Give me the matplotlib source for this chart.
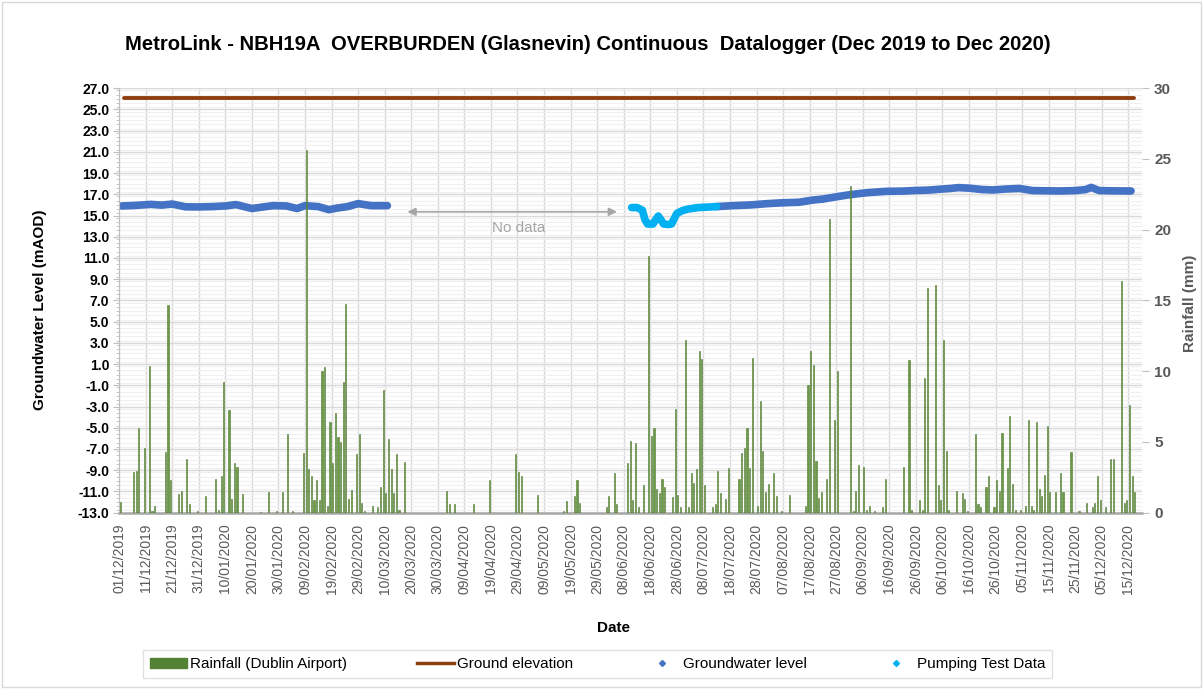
import matplotlib
matplotlib.use('Agg')
import matplotlib.pyplot as plt
import matplotlib.dates as mdates
from matplotlib.lines import Line2D
from matplotlib.patches import Patch, Rectangle
from matplotlib.ticker import MultipleLocator, FormatStrFormatter
import pandas as pd

plt.rcParams['font.family'] = ['Liberation Sans', 'DejaVu Sans']

start = pd.Timestamp('2019-12-01')

# daily rainfall at Dublin Airport (day offset from 01/12/2019, mm)
rain_day = [0, 5, 6, 7, 9, 11, 12, 13, 17, 18, 19, 22, 23, 25, 26, 29, 32, 36, 37, 38,
            39, 41, 42, 43, 44, 46, 53, 56, 59, 61, 63, 65, 69, 70, 71, 72, 73, 74, 75, 76,
            77, 78, 79, 80, 81, 82, 83, 84, 85, 86, 87, 89, 90, 91, 92, 95, 97, 98, 99, 100,
            101, 102, 103, 104, 105, 107, 123, 124, 126, 133, 139, 149, 150, 151, 157, 167, 168, 171, 172, 173,
            183, 184, 186, 187, 191, 192, 193, 194, 195, 197, 199, 200, 201, 202, 203, 204, 205, 208, 209, 210,
            211, 213, 214, 215, 216, 217, 218, 219, 220, 223, 224, 225, 226, 228, 229, 233, 234, 235, 236, 237,
            238, 240, 241, 242, 243, 244, 246, 247, 249, 252, 258, 259, 260, 261, 262, 263, 264, 266, 267, 269,
            270, 275, 276, 277, 278, 280, 281, 282, 284, 287, 288, 295, 297, 298, 301, 302, 303, 304, 307, 308,
            309, 310, 311, 312, 315, 317, 318, 319, 322, 323, 324, 326, 327, 329, 330, 331, 332, 334, 335, 336,
            337, 339, 341, 342, 343, 344, 345, 346, 347, 348, 349, 350, 352, 354, 355, 358, 361, 364, 366, 367,
            368, 369, 371, 373, 374, 377, 378, 379, 380, 381, 382]
rain_mm = [0.77, 2.84, 2.94, 6.0, 4.56, 10.36, 0.1, 0.48, 4.28, 14.65, 2.3, 1.33, 1.52, 3.81, 0.58, 0.1, 1.14, 2.39, 0.2, 2.58,
           9.23, 7.23, 0.96, 3.53, 3.24, 1.33, 0.05, 1.43, 0.1, 1.45, 5.53, 0.1, 4.19, 25.6, 3.05, 2.56, 0.86, 2.28, 0.86, 9.99,
           10.27, 0.48, 6.38, 3.53, 7.04, 5.34, 4.96, 9.21, 14.73, 0.96, 1.62, 4.12, 5.53, 0.67, 0.1, 0.48, 0.39, 1.83, 8.64, 1.36,
           5.22, 3.05, 1.36, 4.12, 0.2, 3.6, 1.55, 0.58, 0.58, 0.58, 2.28, 4.12, 2.84, 2.56, 1.24, 0.1, 0.79, 1.14, 2.28, 0.67,
           0.39, 1.14, 2.77, 0.58, 3.53, 5.03, 0.86, 4.94, 0.39, 1.92, 18.15, 5.43, 6.0, 1.64, 1.36, 2.37, 1.83, 1.07, 7.32, 1.26,
           0.39, 12.18, 0.39, 2.77, 2.11, 3.05, 11.43, 10.84, 1.92, 0.39, 0.58, 2.96, 1.36, 0.96, 3.15, 2.37, 4.19, 4.56, 6.0, 3.15,
           10.93, 0.48, 7.89, 4.38, 1.45, 2.02, 2.77, 1.14, 0.1, 1.24, 0.48, 9.02, 11.43, 10.44, 3.62, 1.05, 1.45, 2.37, 20.75, 6.57,
           9.99, 23.1, 0.1, 1.55, 3.34, 3.24, 0.2, 0.48, 0.1, 0.39, 2.39, 3.24, 10.77, 0.2, 0.86, 0.2, 9.51, 15.88, 16.07, 1.92,
           0.86, 12.18, 4.38, 0.2, 1.55, 1.36, 0.96, 0.1, 5.53, 0.58, 0.39, 1.83, 2.56, 0.39, 2.3, 1.55, 5.62, 3.15, 6.85, 2.02,
           0.2, 0.2, 0.48, 6.57, 0.48, 0.2, 6.38, 1.64, 1.14, 2.68, 6.1, 1.45, 1.45, 2.77, 1.45, 4.28, 0.1, 0.67, 0.39, 0.67,
           2.56, 0.86, 0.39, 3.81, 3.81, 16.38, 0.67, 0.86, 7.6, 2.56, 1.45]

# groundwater level (mAOD), before the logger gap
gw1_day = [1, 6, 12, 16, 20, 25, 30, 35, 40, 44, 50, 54, 58, 63, 67, 70, 75, 79, 82, 86, 90, 95, 101]
gw1_level = [15.90, 15.95, 16.05, 15.98, 16.08, 15.82, 15.81, 15.84, 15.90, 16.03, 15.66, 15.80, 15.93, 15.90,
             15.66, 15.93, 15.84, 15.55, 15.70, 15.84, 16.12, 15.93, 15.93]

# pumping test period
pump_day = [193, 195, 197, 198, 199, 201, 202, 203, 204, 205, 207, 208, 209, 210, 212, 214, 218, 222, 225]
pump_level = [15.75, 15.75, 15.5, 14.6, 14.2, 14.2, 14.6, 14.95, 14.6, 14.2, 14.15, 14.2, 14.7, 15.2, 15.45,
              15.6, 15.75, 15.8, 15.84]

# groundwater level after pumping test
gw2_day = [225, 231, 238, 244, 250, 256, 261, 265, 269, 274, 278, 282, 289, 295, 299, 305, 309, 313, 316, 320,
           325, 329, 334, 339, 344, 349, 354, 360, 364, 366, 369, 375, 381]
gw2_level = [15.84, 15.93, 16.0, 16.12, 16.2, 16.25, 16.45, 16.55, 16.72, 16.92, 17.05, 17.16, 17.28, 17.3,
             17.35, 17.4, 17.48, 17.55, 17.63, 17.58, 17.45, 17.41, 17.5, 17.55, 17.35, 17.33, 17.31, 17.35,
             17.45, 17.65, 17.35, 17.32, 17.31]

ground_day = [2, 382]
ground_level = [26.1, 26.1]


def to_dates(days, shift=0.0):
    return [start + pd.Timedelta(days=d + shift) for d in days]


fig = plt.figure(figsize=(12.03, 6.89), dpi=100)
ax = fig.add_axes([0.099, 0.256, 0.850, 0.616])
ax2 = ax.twinx()

c_rain = '#6A9A48'
c_ground = '#8E3F12'
c_gw = '#4472C4'
c_pump = '#00B0F0'

ax.plot(to_dates(ground_day), ground_level, color=c_ground, lw=2.8, solid_capstyle='round')
ax.plot(to_dates(gw1_day), gw1_level, color=c_gw, lw=5.5, solid_capstyle='round', solid_joinstyle='round')
ax.plot(to_dates(gw2_day), gw2_level, color=c_gw, lw=5.5, solid_capstyle='round', solid_joinstyle='round')
ax.plot(to_dates(pump_day), pump_level, color=c_pump, lw=5.5, solid_capstyle='round', solid_joinstyle='round')

ax2.bar(to_dates(rain_day, 0.4), rain_mm, width=0.42, color=c_rain, edgecolor='#4F7A30', linewidth=0.4)

# no data annotation
ax.annotate('', xy=(start + pd.Timedelta(days=107.5), 15.35), xytext=(start + pd.Timedelta(days=188.5), 15.35),
            arrowprops=dict(arrowstyle='<|-|>', color='#A6A6A6', lw=1.2, mutation_scale=12))
ax.text(start + pd.Timedelta(days=150.5), 13.85, 'No data', color='#A6A6A6', fontsize=11, ha='center', va='center')

# axes
ax.set_xlim(start, start + pd.Timedelta(days=385))
ax.set_ylim(-13, 27)
ax2.set_ylim(0, 30)
ax.set_yticks([27 - 2 * i for i in range(21)])
ax.yaxis.set_major_formatter(FormatStrFormatter('%.1f'))
ax.yaxis.set_minor_locator(MultipleLocator(0.4))
ax.set_xticks(to_dates(range(0, 381, 10)))
ax.xaxis.set_major_formatter(mdates.DateFormatter('%d/%m/%Y'))
ax2.set_yticks(range(0, 31, 5))

ax.set_axisbelow(True)
ax.grid(True, which='major', color='#D9D9D9', lw=1.0)
ax.grid(True, which='minor', axis='y', color='#F0F0F0', lw=0.8)

for lbl in ax.get_yticklabels():
    lbl.set_fontweight('bold')
ax.tick_params(axis='y', which='major', labelsize=10, length=4, color='#BFBFBF', pad=3)
ax.tick_params(axis='y', which='minor', length=2.5, color='#BFBFBF')
ax.tick_params(axis='x', labelsize=10, labelrotation=90, length=0, labelcolor='#595959', pad=8)
ax2.tick_params(axis='y', labelsize=11, length=5, color='#BFBFBF', labelcolor='#595959', pad=4)
for lbl in ax2.get_yticklabels():
    lbl.set_fontweight('bold')

for s in ['top', 'right']:
    ax.spines[s].set_visible(False)
for s in ['top', 'left', 'bottom', 'right']:
    ax2.spines[s].set_visible(False)
ax.spines['left'].set_color('#BFBFBF')
ax.spines['bottom'].set_color('#A6A6A6')
ax.spines['bottom'].set_linewidth(1.8)

fig.text(0.489, 0.936, 'MetroLink - NBH19A  OVERBURDEN (Glasnevin) Continuous  Datalogger (Dec 2019 to Dec 2020)',
         ha='center', va='center', fontsize=14.6, fontweight='bold')
fig.text(0.033, 0.55, 'Groundwater Level (mAOD)', rotation=90, ha='center', va='center',
         fontsize=11, fontweight='bold')
fig.text(0.989, 0.56, 'Rainfall (mm)', rotation=90, ha='center', va='center',
         fontsize=11, fontweight='bold', color='#595959')
fig.text(0.51, 0.088, 'Date', ha='center', va='center', fontsize=11, fontweight='bold')

handles = [Patch(facecolor='#548235', edgecolor='#548235'),
           Line2D([], [], color=c_ground, lw=2.5),
           Line2D([], [], color=c_gw, marker='D', ls='none', markersize=3),
           Line2D([], [], color=c_pump, marker='D', ls='none', markersize=3)]
labels = ['Rainfall (Dublin Airport)', 'Ground elevation', 'Groundwater level', 'Pumping Test Data']
leg = fig.legend(handles, labels, loc='center', bbox_to_anchor=(0.497, 0.036), ncol=4,
                 fontsize=11, frameon=True, fancybox=False, edgecolor='#D9D9D9',
                 columnspacing=4.6, handlelength=2.4, handletextpad=0.2, borderpad=0.45)
leg.get_frame().set_linewidth(1.0)

fig.patches.append(Rectangle((0.002, 0.003), 0.996, 0.994, transform=fig.transFigure,
                             fill=False, edgecolor='#D9D9D9', lw=1.0))

fig.savefig('out.png', dpi=100)
